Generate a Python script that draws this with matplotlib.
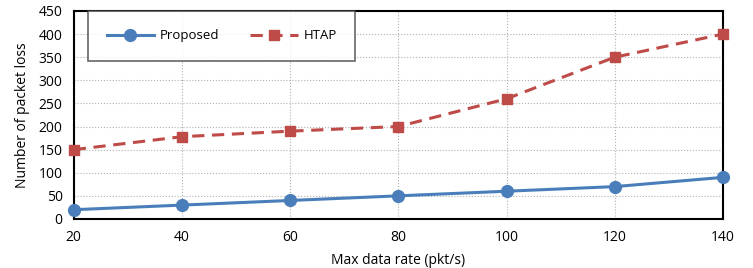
import matplotlib
matplotlib.use('Agg')
import matplotlib.pyplot as plt

# Data
rates = [20, 40, 60, 80, 100, 120, 140]
proposed = [20, 30, 40, 50, 60, 70, 90]
htap = [150, 178, 190, 200, 260, 350, 400]

plt.rcParams['font.family'] = ['Open Sans', 'DejaVu Sans']

fig = plt.figure(figsize=(7.53, 2.68), dpi=100)
ax = fig.add_axes([0.098, 0.183, 0.862, 0.776])

ax.plot(rates, proposed, color='#4A7EBB', lw=2.2, marker='o', markersize=8.5,
        label='Proposed', zorder=3, clip_on=False)
ax.plot(rates, htap, color='#BE4B48', lw=2.2, ls=(0, (4, 2.5)), marker='s',
        markersize=7, label='HTAP', zorder=3, clip_on=False)

ax.set_xlim(20, 140)
ax.set_ylim(0, 450)
ax.set_xticks(rates)
ax.set_yticks(range(0, 451, 50))
ax.tick_params(axis='x', labelsize=10, length=0, pad=8)
ax.tick_params(axis='y', labelsize=10, length=0, pad=8)
ax.grid(True, ls=':', color='#b0b0b0', lw=0.8)
for s in ax.spines.values():
    s.set_linewidth(1.5)
    s.set_color('black')

ax.set_xlabel('Max data rate (pkt/s)', fontsize=10, labelpad=6)
ax.set_ylabel('Number of packet loss', fontsize=10, labelpad=6)

leg = ax.legend(loc='upper left', bbox_to_anchor=(0.022, 1.0), ncol=2,
                fontsize=9.5, frameon=True, fancybox=False, borderpad=1.4,
                handlelength=3.6, handletextpad=0.4, columnspacing=2.4,
                borderaxespad=0)
leg.get_frame().set_edgecolor('#404040')
leg.get_frame().set_linewidth(1.2)

fig.savefig('out.png', dpi=100)
